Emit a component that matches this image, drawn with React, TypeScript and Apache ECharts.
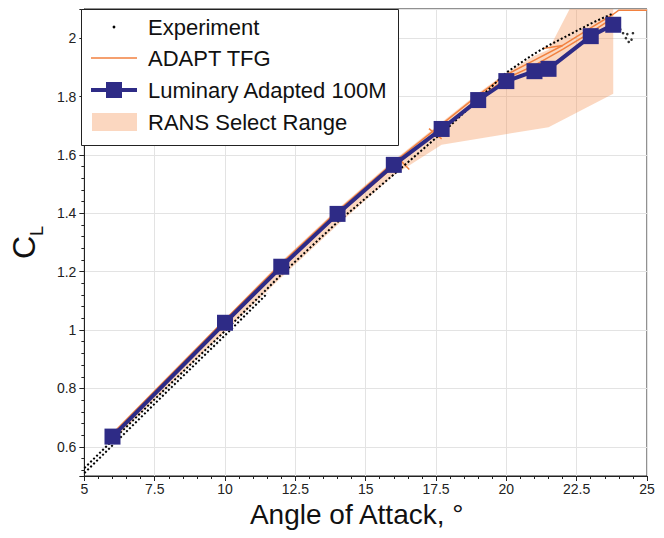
import React, { useEffect, useRef } from "react";
import * as echarts from "echarts";

// ---------- data ----------
const lumAlpha = [6, 10, 12, 14, 16, 17.7, 19, 20, 21, 21.5, 23, 23.8];
const lumCL = [0.635, 1.025, 1.217, 1.398, 1.566, 1.689, 1.788, 1.853, 1.887, 1.895, 2.007, 2.046];

const adaptAlpha = [6, 10, 12, 14, 16, 17.7, 19, 20, 21, 22, 23, 23.8, 24, 25];
const adaptCL = [0.645, 1.035, 1.228, 1.408, 1.575, 1.705, 1.805, 1.875, 1.925, 1.975, 2.035, 2.082, 2.096, 2.096];
const adapt2Alpha = [14, 16, 17.7, 19, 20, 21, 22, 23, 23.8];
const adapt2CL = [1.395, 1.56, 1.69, 1.792, 1.862, 1.907, 1.962, 2.02, 2.07];
const adaptBranch1Alpha = [16.15, 16.55];
const adaptBranch1CL = [1.59, 1.55];
const adaptBranch2Alpha = [17.25, 17.7];
const adaptBranch2CL = [1.69, 1.655];
const adaptBranch3Alpha = [21.3, 22.0];
const adaptBranch3CL = [1.965, 1.975];

const expAlphaA = [5, 6, 8, 10, 12, 14, 16, 18, 19, 20, 20.5, 21, 21.5, 22, 22.5, 23, 23.4, 23.75];
const expCLA = [0.527, 0.622, 0.81, 0.997, 1.19, 1.37, 1.533, 1.7, 1.79, 1.882, 1.915, 1.947, 1.975, 2.0, 2.025, 2.05, 2.068, 2.083];
const expAlphaB = [5, 6, 8, 10, 11.5];
const expCLB = [0.51, 0.605, 0.795, 0.982, 1.125];
const expPostAlpha = [24.05, 24.15, 24.3, 24.5, 24.25, 24.35, 24.45];
const expPostCL = [2.03, 2.017, 2.014, 2.017, 2.0, 1.987, 1.995];

const bandUpperAlpha = [6, 10, 12, 14, 16, 17.7, 19, 20, 21, 21.5, 22.25, 23.8];
const bandUpperCL = [0.65, 1.04, 1.235, 1.415, 1.582, 1.712, 1.812, 1.882, 1.94, 1.96, 2.1, 2.1];
const bandLowerAlpha = [6, 10, 12, 14, 16, 17.7, 21.5, 23.8];
const bandLowerCL = [0.62, 0.995, 1.18, 1.36, 1.53, 1.635, 1.695, 1.81];

const xTicks = { min: 5, max: 25, interval: 2.5 };
const yTicks = { min: 0.5, max: 2.1, step: 0.2 };

const legendNames = ["Experiment", "ADAPT TFG", "Luminary Adapted 100M", "RANS Select Range"];

// ---------- styles ----------
const NAVY = "#2E2B86";
const ORANGE = "#F2813F";
const PEACH = "rgba(244,150,90,0.38)";
const FONT = "Liberation Sans, Arial, sans-serif";

const zip = (xs: number[], ys: number[]) => xs.map((x, i) => [x, ys[i]]);

export default function App() {
  const ref = useRef<HTMLDivElement>(null);
  useEffect(() => {
    document.body.style.margin = "0";
    const chart = echarts.init(ref.current!, null, { renderer: "svg" });

    const orangeLine = (xs: number[], ys: number[]) => ({
      type: "line",
      name: "ADAPT TFG",
      data: zip(xs, ys),
      symbol: "none",
      lineStyle: { color: ORANGE, width: 1.5 },
      z: 3,
    });

    const legendY = [27, 58, 90, 122];
    const legendGraphic: any[] = [
      {
        type: "rect",
        shape: { x: 81.5, y: 9.5, width: 317, height: 136 },
        style: { fill: "#fff", stroke: "#222", lineWidth: 1 },
        z: 100,
      },
      {
        type: "circle",
        shape: { cx: 114, cy: legendY[0], r: 1.4 },
        style: { fill: "#000" },
        z: 101,
      },
      {
        type: "line",
        shape: { x1: 91, y1: legendY[1], x2: 137, y2: legendY[1] },
        style: { stroke: ORANGE, lineWidth: 1.5 },
        z: 101,
      },
      {
        type: "line",
        shape: { x1: 91, y1: legendY[2], x2: 137, y2: legendY[2] },
        style: { stroke: NAVY, lineWidth: 4 },
        z: 101,
      },
      {
        type: "rect",
        shape: { x: 106, y: legendY[2] - 8, width: 16, height: 16 },
        style: { fill: NAVY },
        z: 102,
      },
      {
        type: "rect",
        shape: { x: 92, y: legendY[3] - 9, width: 45, height: 18 },
        style: { fill: PEACH },
        z: 101,
      },
      ...legendNames.map((n, i) => ({
        type: "text",
        x: 148,
        y: legendY[i],
        style: {
          text: n,
          fill: "#111",
          font: `22px ${FONT}`,
          verticalAlign: "middle",
          align: "left",
        },
        z: 101,
      })),
    ];

    chart.setOption({
      animation: false,
      textStyle: { fontFamily: FONT },
      grid: {
        left: 81,
        right: 17,
        top: 9,
        bottom: 62,
        show: true,
        borderColor: "#222",
        borderWidth: 1,
      },
      xAxis: {
        type: "value",
        min: xTicks.min,
        max: xTicks.max,
        interval: xTicks.interval,
        axisLine: { lineStyle: { color: "#222", width: 1 } },
        axisTick: { length: 5, lineStyle: { color: "#222" } },
        minorTick: { show: true, splitNumber: 5, length: 3, lineStyle: { color: "#222" } },
        splitLine: { show: true, lineStyle: { color: "#e3e3e3" } },
        axisLabel: { fontSize: 14, color: "#222", margin: 6 },
        name: "Angle of Attack, °",
        nameLocation: "middle",
        nameGap: 19,
        nameTextStyle: { fontSize: 28, color: "#111", padding: [0, 18, 0, 0] },
      },
      yAxis: {
        type: "value",
        min: yTicks.min,
        max: yTicks.max,
        splitNumber: 8,
        axisLine: { show: true, lineStyle: { color: "#222", width: 1 } },
        axisTick: { show: true, length: 5, lineStyle: { color: "#222" } },
        minorTick: { show: true, splitNumber: 5, length: 3, lineStyle: { color: "#222" } },
        splitLine: { show: true, lineStyle: { color: "#e3e3e3" } },
        axisLabel: {
          fontSize: 14,
          color: "#222",
          margin: 8,
          formatter: (v: number) =>
            Math.abs(v / yTicks.step - Math.round(v / yTicks.step)) < 1e-6 ? String(+v.toFixed(1)) : "",
        },
        name: "{c|C}{l|L}",
        nameLocation: "middle",
        nameGap: 34,
        nameRotate: 90,
        nameTextStyle: {
          rich: {
            c: { fontSize: 32, color: "#111", verticalAlign: "bottom", padding: [0, 0, 6, 0] },
            l: { fontSize: 18, color: "#111", verticalAlign: "bottom" },
          },
        },
      },
      graphic: legendGraphic,
      series: [
        {
          type: "custom",
          name: "RANS Select Range",
          data: [[bandUpperAlpha[0], bandUpperCL[0]]],
          silent: true,
          z: 1,
          renderItem: (_params: any, api: any) => {
            const upper = bandUpperAlpha.map((a, i) => api.coord([a, bandUpperCL[i]]));
            const lower = bandLowerAlpha.map((a, i) => api.coord([a, bandLowerCL[i]])).reverse();
            return {
              type: "polygon",
              shape: { points: [...upper, ...lower] },
              style: { fill: PEACH },
            };
          },
        },
        orangeLine(adaptAlpha, adaptCL),
        orangeLine(adapt2Alpha, adapt2CL),
        orangeLine(adaptBranch1Alpha, adaptBranch1CL),
        orangeLine(adaptBranch2Alpha, adaptBranch2CL),
        orangeLine(adaptBranch3Alpha, adaptBranch3CL),
        {
          type: "line",
          name: "Experiment",
          data: zip(expAlphaA, expCLA),
          symbol: "none",
          lineStyle: { color: "#000", width: 2, type: [2, 2.2] },
          z: 4,
        },
        {
          type: "line",
          name: "Experiment",
          data: zip(expAlphaB, expCLB),
          symbol: "none",
          lineStyle: { color: "#000", width: 2, type: [2, 2.2] },
          z: 4,
        },
        {
          type: "scatter",
          name: "Experiment",
          data: zip(expPostAlpha, expPostCL),
          symbol: "circle",
          symbolSize: 2.6,
          itemStyle: { color: "#000" },
          z: 4,
        },
        {
          type: "line",
          name: "Luminary Adapted 100M",
          data: zip(lumAlpha, lumCL),
          symbol: "rect",
          symbolSize: 16,
          lineStyle: { color: NAVY, width: 4 },
          itemStyle: { color: NAVY },
          z: 5,
        },
      ],
    });
    return () => chart.dispose();
  }, []);
  return <div ref={ref} style={{ width: 664, height: 538 }} />;
}
